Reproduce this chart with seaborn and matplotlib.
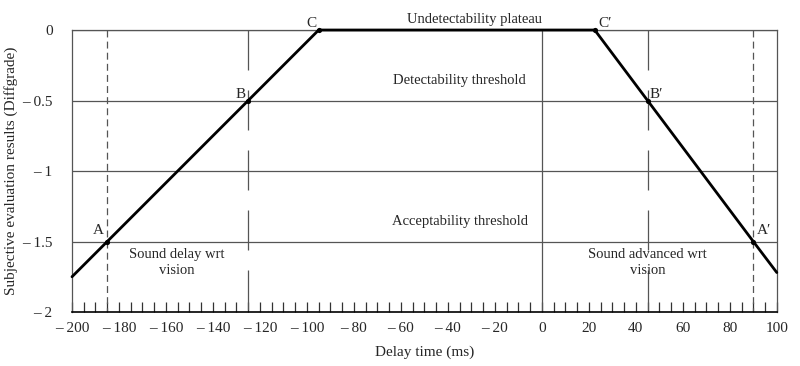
import numpy as np
import matplotlib
matplotlib.use("Agg")
import matplotlib.pyplot as plt
import matplotlib.ticker as mticker
import pandas as pd
import seaborn as sns

# curve breakpoints (delay ms, diffgrade)
curve_x = [-200, -185, -125, -95, 22.5, 45, 90, 100]
curve_y = [-1.75, -1.5, -0.5, 0, 0, -0.5, -1.5, -1.72]

# labelled points
pt_names = ["A", "B", "C", "C\u2032", "B\u2032", "A\u2032"]
pt_x = [-185, -125, -95, 22.5, 45, 90]
pt_y = [-1.5, -0.5, 0, 0, -0.5, -1.5]

thresholds = [0, -0.5, -1, -1.5]
long_dash_x = [-125, 45]
short_dash_x = [-185, 90]

region_labels = ["Undetectability plateau", "Detectability threshold", "Acceptability threshold",
                 "Sound delay wrt\nvision", "Sound advanced wrt\nvision"]

xticks = list(range(-200, 101, 20))
yticks = [0, -0.5, -1, -1.5, -2]


def fmt(v):
    s = ("%g" % v)
    return s.replace("-", "\u2013 ")


sns.set_theme(style="ticks")
plt.rcParams['font.family'] = ['Liberation Serif', 'DejaVu Serif']
plt.rcParams['lines.scale_dashes'] = False
plt.rcParams['font.size'] = 10.5

fig = plt.figure(figsize=(8, 3.66), dpi=100)
ax = fig.add_axes([0.09, 0.1475, 0.881, 0.7705])

grey = '#555555'
for t in thresholds:
    ax.axhline(t, color=grey, lw=0.9, zorder=1)
ax.axvline(0, color=grey, lw=0.9, zorder=1)
for xv in long_dash_x:
    ax.plot([xv, xv], [0, -2], color=grey, lw=0.9, linestyle=(0, (28.8, 14.4)), zorder=1)
for xv in short_dash_x:
    ax.plot([xv, xv], [0, -2], color=grey, lw=0.9, linestyle=(0, (5, 3)), zorder=1)

df = pd.DataFrame({"x": curve_x, "y": curve_y})
sns.lineplot(data=df, x="x", y="y", sort=False, color='black', lw=2, ax=ax, zorder=3, clip_on=False)
pts = pd.DataFrame({"x": pt_x, "y": pt_y})
sns.scatterplot(data=pts, x="x", y="y", color='black', s=14, ax=ax, zorder=4, clip_on=False, linewidth=0)

# point labels
off = {"A": (-1.5, 0.03, 'right'), "B": (-1, 0.0, 'right'), "C": (-1, 0.0, 'right'),
       "C\u2032": (1.5, 0.0, 'left'), "B\u2032": (1, 0.0, 'left'), "A\u2032": (1.5, 0.03, 'left')}
for n, xv, yv in zip(pt_names, pt_x, pt_y):
    dx, dy, ha = off[n]
    ax.text(xv + dx, yv + dy, n, ha=ha, va='bottom', fontsize=11)

ax.text(-28.5, 0.03, region_labels[0], ha='center', va='bottom')
ax.text(-35, -0.355, region_labels[1], ha='center', va='center')
ax.text(-35, -1.36, region_labels[2], ha='center', va='center')
ax.text(-155.5, -1.65, region_labels[3], ha='center', va='center', linespacing=1.35)
ax.text(45, -1.65, region_labels[4], ha='center', va='center', linespacing=1.35)

ax.set_xlim(-200, 100)
ax.set_ylim(-2, 0)
ax.set_xticks(xticks)
ax.set_xticklabels([fmt(v) for v in xticks], fontsize=11)
ax.xaxis.set_minor_locator(mticker.MultipleLocator(5))
ax.tick_params(axis='x', which='both', direction='in', length=7, width=0.9, color='#333333', pad=7)
ax.set_yticks(yticks)
ax.set_yticklabels([fmt(v) for v in yticks], fontsize=11)
ax.tick_params(axis='y', length=0, pad=14)

for s in ['left', 'right', 'top']:
    ax.spines[s].set_color(grey)
    ax.spines[s].set_linewidth(0.9)
ax.spines['bottom'].set_color('black')
ax.spines['bottom'].set_linewidth(1.2)

ax.set_xlabel("Delay time (ms)", fontsize=11, labelpad=8)
ax.set_ylabel("Subjective evaluation results (Diffgrade)", fontsize=11, labelpad=3)

fig.savefig("out.png", dpi=100)
